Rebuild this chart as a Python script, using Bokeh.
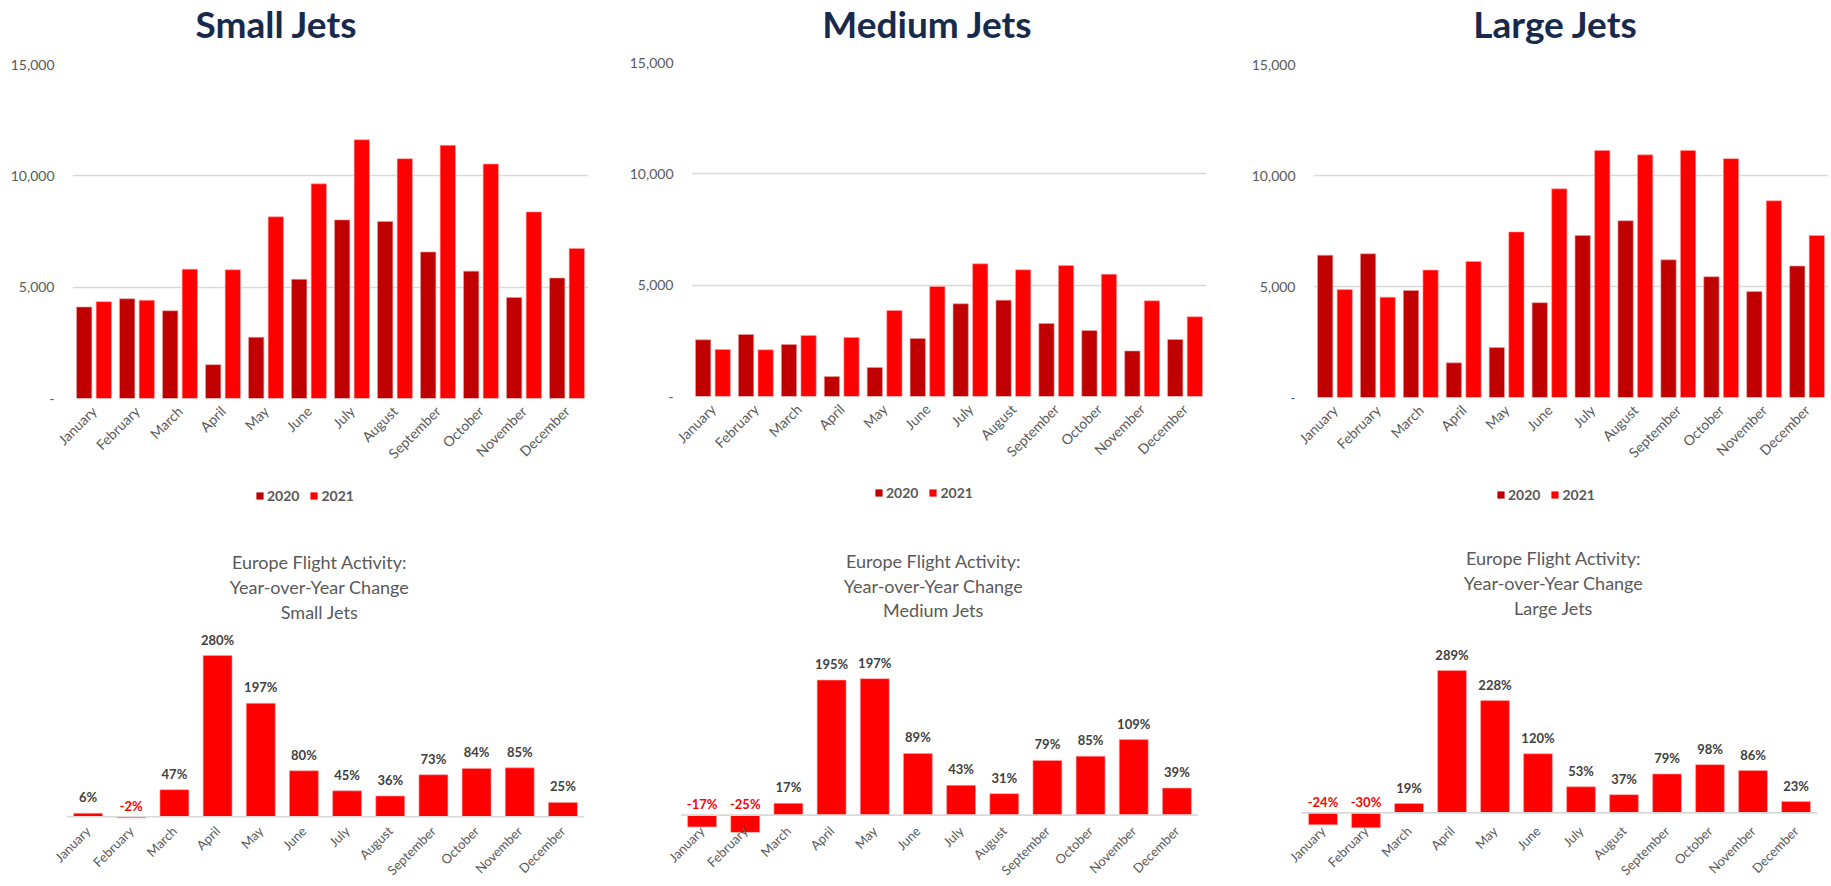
import math
from bokeh.plotting import figure
from bokeh.models import (FactorRange, Range1d, FixedTicker, NumeralTickFormatter, Legend,
                          LegendItem, LabelSet, ColumnDataSource, Span)
from bokeh.transform import dodge
from bokeh.layouts import column, row
from bokeh.core.properties import value
from bokeh.embed import file_html
from bokeh.resources import INLINE

# ---------------- data ----------------
months = ["January", "February", "March", "April", "May", "June", "July",
          "August", "September", "October", "November", "December"]
years = ["2020", "2021"]

small_2020 = [4110, 4480, 3940, 1520, 2750, 5350, 8020, 7950, 6580, 5720, 4540, 5410]
small_2021 = [4350, 4410, 5810, 5780, 8160, 9640, 11620, 10770, 11370, 10530, 8380, 6740]

medium_2020 = [2545, 2785, 2336, 898, 1303, 2605, 4163, 4327, 3279, 2960, 2045, 2560]
medium_2021 = [2111, 2096, 2740, 2650, 3863, 4941, 5960, 5690, 5885, 5490, 4297, 3579]

large_2020 = [6410, 6470, 4820, 1560, 2250, 4270, 7300, 7960, 6200, 5440, 4770, 5920]
large_2021 = [4860, 4520, 5740, 6130, 7460, 9400, 11130, 10930, 11130, 10760, 8860, 7300]

small_yoy = [6, -2, 47, 280, 197, 80, 45, 36, 73, 84, 85, 25]
medium_yoy = [-17, -25, 17, 195, 197, 89, 43, 31, 79, 85, 109, 39]
large_yoy = [-24, -30, 19, 289, 228, 120, 53, 37, 79, 98, 86, 23]

top_titles = ["Small Jets", "Medium Jets", "Large Jets"]
sub_titles = [["Europe Flight Activity:", "Year-over-Year Change", "Small Jets"],
              ["Europe Flight Activity:", "Year-over-Year Change", "Medium Jets"],
              ["Europe Flight Activity:", "Year-over-Year Change", "Large Jets"]]
y_ticks = [0, 5000, 10000, 15000]

# ---------------- style ----------------
FONT = "Lato"
DARK_RED = "#C00000"
RED = "#FF0000"
NAVY = "#172A4B"
GRAY = "#595959"
DGRAY = "#404040"
GRID = "#D9D9D9"


def bare_fig(W, H, x_range, y_range, bl, br):
    # frames in a column are aligned with the chart below/above, so give the same borders
    p = figure(width=W, height=H, x_range=x_range, y_range=y_range,
               output_backend="svg", toolbar_location=None,
               x_axis_location=None, y_axis_location=None,
               min_border_left=bl, min_border_right=br, min_border_top=0, min_border_bottom=0)
    p.outline_line_color = None
    p.grid.visible = False
    return p


def text_fig(W, H, bl, br, lines, cx, cys, size, style, color):
    # x data == canvas pixel, y data == pixel from top
    p = bare_fig(W, H, Range1d(bl, W - br), Range1d(H, 0), bl, br)
    src = ColumnDataSource(dict(x=[cx] * len(lines), y=cys, t=lines))
    p.text(x="x", y="y", text="t", source=src, text_align="center", text_baseline="middle",
           text_font=value(FONT), text_font_size=value(size), text_font_style=style,
           text_color=color)
    return p


def legend_fig(W, H, bl, br, v20, v21, lx, ly):
    p = bare_fig(W, H, FactorRange(*months), Range1d(0, 1), bl, br)
    src = ColumnDataSource(dict(month=months, a=v20, b=v21))
    r1 = p.vbar(x="month", top="a", width=0.356, source=src, fill_color=DARK_RED,
                line_color=None, visible=False)
    r2 = p.vbar(x="month", top="b", width=0.356, source=src, fill_color=RED,
                line_color=None, visible=False)
    leg = Legend(items=[LegendItem(label=years[0], renderers=[r1]),
                        LegendItem(label=years[1], renderers=[r2])],
                 location=(lx, ly), orientation="horizontal",
                 border_line_color=None, background_fill_alpha=0,
                 inactive_fill_alpha=0,
                 padding=0, margin=0, spacing=10, glyph_width=9, glyph_height=9,
                 label_standoff=3, label_height=13, label_width=10,
                 label_text_font=FONT, label_text_font_size="14px",
                 label_text_font_style="bold", label_text_color=GRAY)
    p.add_layout(leg)
    return p


def top_chart(v20, v21, W, H, bl, br, bt, bb):
    p = figure(x_range=FactorRange(*months), y_range=Range1d(0, 15000),
               width=W, height=H, output_backend="svg", toolbar_location=None,
               min_border_left=bl, min_border_right=br, min_border_top=bt,
               min_border_bottom=bb)
    p.outline_line_color = None
    src = ColumnDataSource(dict(month=months, a=v20, b=v21))
    p.vbar(x=dodge("month", -0.228, range=p.x_range), top="a", width=0.356,
           source=src, fill_color=DARK_RED, line_color="#E9A0A0", line_width=0.6)
    p.vbar(x=dodge("month", 0.228, range=p.x_range), top="b", width=0.356,
           source=src, fill_color=RED, line_color="#FFA0A0", line_width=0.6)

    ya = p.yaxis[0]
    ya.ticker = FixedTicker(ticks=y_ticks)
    ya.formatter = NumeralTickFormatter(format="0,0")
    ya.major_label_overrides = {0: "-"}
    ya.axis_line_color = None
    ya.major_tick_line_color = None
    ya.minor_tick_line_color = None
    ya.major_tick_out = 0
    ya.major_label_standoff = 18
    ya.major_label_text_font = FONT
    ya.major_label_text_font_size = "14px"
    ya.major_label_text_color = GRAY

    xa = p.xaxis[0]
    xa.axis_line_color = None
    xa.major_tick_line_color = None
    xa.minor_tick_line_color = None
    xa.major_tick_out = 0
    xa.major_label_orientation = math.pi / 4
    xa.major_label_standoff = 10
    xa.major_label_text_font = FONT
    xa.major_label_text_font_size = "14px"
    xa.major_label_text_color = GRAY

    p.xgrid.grid_line_color = None
    p.ygrid.ticker = FixedTicker(ticks=y_ticks)
    p.ygrid.grid_line_color = GRID
    p.ygrid.grid_line_width = 1.4
    return p


def yoy_chart(vals, W, H, bl, br, bt, bb, ymin, ymax):
    p = figure(x_range=FactorRange(*months), y_range=Range1d(ymin, ymax),
               width=W, height=H, output_backend="svg", toolbar_location=None,
               min_border_left=bl, min_border_right=br, min_border_top=bt,
               min_border_bottom=bb, y_axis_location=None)
    p.outline_line_color = None
    lab_y = [max(v, 0) for v in vals]
    lab_t = ["%d%%" % v for v in vals]
    lab_c = [DGRAY if v >= 0 else RED for v in vals]
    lab_o = [8 if v >= 0 else 3 for v in vals]
    src = ColumnDataSource(dict(month=months, v=vals, ly=lab_y, lt=lab_t, lc=lab_c, lo=lab_o))
    p.vbar(x="month", top="v", width=0.67, source=src, fill_color=RED,
           line_color="#FFA0A0", line_width=0.6)
    p.add_layout(Span(location=0, dimension="width", line_color=GRID, line_width=1.6))
    p.add_layout(LabelSet(x="month", y="ly", text="lt", text_color="lc", y_offset="lo",
                          source=src, text_align="center", text_baseline="bottom",
                          text_font=value(FONT), text_font_size="13px",
                          text_font_style="bold"))
    p.xgrid.grid_line_color = None
    p.ygrid.grid_line_color = None
    xa = p.xaxis[0]
    xa.axis_line_color = None
    xa.major_tick_line_color = None
    xa.minor_tick_line_color = None
    xa.major_tick_out = 0
    xa.major_label_orientation = math.pi / 4
    xa.major_label_standoff = -4
    xa.major_label_text_font = FONT
    xa.major_label_text_font_size = "13px"
    xa.major_label_text_color = GRAY
    return p


W1, W2, W3 = 620, 605, 605

# ---- top row: title / chart / legend per column ----
t1 = text_fig(W1, 50, 72, 32, [top_titles[0]], 276, [23], "37px", "bold", NAVY)
t2 = text_fig(W2, 50, 71, 19, [top_titles[1]], 307, [23], "37px", "bold", NAVY)
t3 = text_fig(W3, 50, 88, 2, [top_titles[2]], 330, [23], "37px", "bold", NAVY)

f1 = top_chart(small_2020, small_2021, W1, 420, 72, 32, 14, 71)
f2 = top_chart(medium_2020, medium_2021, W2, 420, 71, 19, 12, 74)
f3 = top_chart(large_2020, large_2021, W3, 420, 88, 2, 14, 73)

l1 = legend_fig(W1, 50, 72, 32, small_2020, small_2021, 183, 16.5)
l2 = legend_fig(W2, 50, 71, 19, medium_2020, medium_2021, 183, 19.5)
l3 = legend_fig(W3, 50, 88, 2, large_2020, large_2021, 183, 17.5)

# ---- bottom row: subtitle / chart per column ----
s4 = text_fig(W1, 104, 66, 36, sub_titles[0], 319, [41.7, 66, 91.7], "18px", "normal", GRAY)
s5 = text_fig(W2, 104, 60, 27, sub_titles[1], 313, [40, 65, 89.3], "18px", "normal", GRAY)
s6 = text_fig(W3, 104, 76, 13, sub_titles[2], 328, [37.7, 62.7, 87.7], "18px", "normal", GRAY)

f4 = yoy_chart(small_yoy, W1, 262, 66, 36, 0, 50, -27.3, 333.9)
f5 = yoy_chart(medium_yoy, W2, 262, 60, 27, 0, 50, -25.1, 275.2)
f6 = yoy_chart(large_yoy, W3, 262, 76, 13, 0, 50, -39.8, 382.5)

layout = column(row(column(t1, f1, l1), column(t2, f2, l2), column(t3, f3, l3)),
                row(column(s4, f4), column(s5, f5), column(s6, f6)))
open("out.html", "w").write(file_html(layout, INLINE))
